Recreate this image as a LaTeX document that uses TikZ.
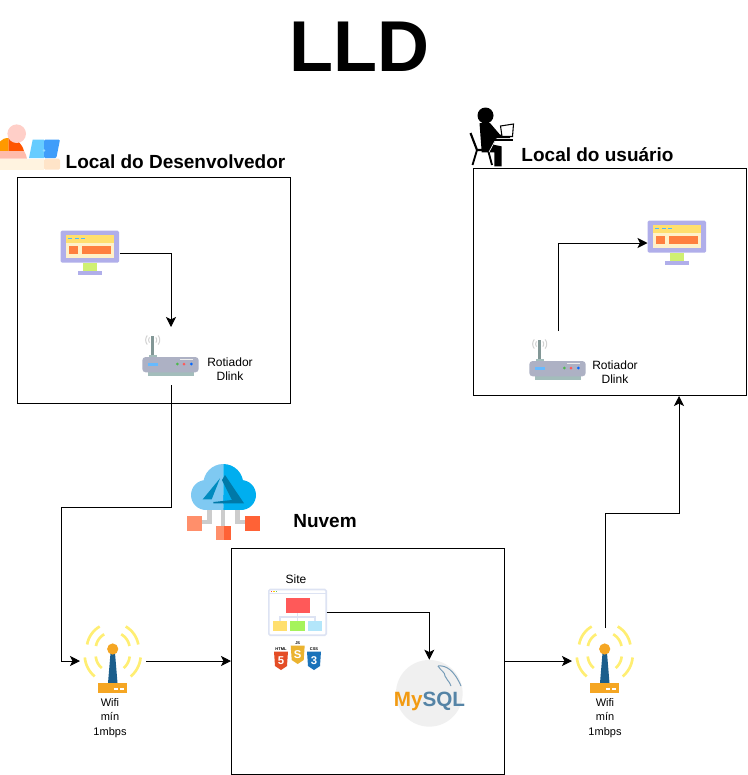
\documentclass[tikz,border=0pt]{standalone}
\usepackage{fontspec}
\setmainfont{Liberation Sans}
\usetikzlibrary{arrows.meta}

\definecolor{screenframe}{HTML}{B0AEEA}
\definecolor{screenhead}{HTML}{FFDF6E}
\definecolor{screenbody}{HTML}{FFF1C9}
\definecolor{screenbox}{HTML}{FF7F3F}
\definecolor{screenstand}{HTML}{CFF072}
\definecolor{routerbody}{HTML}{ADB1C4}
\definecolor{routerfoot}{HTML}{A3BDBB}
\definecolor{mastblue}{HTML}{1B5E8C}
\definecolor{wifiorange}{HTML}{F5A623}
\definecolor{wifiyellow}{HTML}{FFEE73}
\definecolor{cloudlight}{HTML}{7FC9F2}
\definecolor{clouddark}{HTML}{00AEEF}
\definecolor{logodark}{HTML}{0079A8}
\definecolor{squarelight}{HTML}{FF8F6B}
\definecolor{squaredark}{HTML}{FF6236}
\definecolor{sqlorange}{HTML}{F29A11}
\definecolor{sqlblue}{HTML}{5584A6}
\definecolor{sitefr}{HTML}{DDE3F3}
\definecolor{tablelight}{HTML}{FFF3E0}
\definecolor{tabledark}{HTML}{FFE4C8}
\definecolor{skinpink}{HTML}{FFCFC8}
\definecolor{collarpink}{HTML}{FFBBAB}
\definecolor{shirtorange}{HTML}{FF9900}
\definecolor{shirtred}{HTML}{FF5500}
\definecolor{laptoplight}{HTML}{66CCFF}
\definecolor{laptopdark}{HTML}{3F9DFA}
\definecolor{htmlbadge}{HTML}{E44D26}
\definecolor{jsbadge}{HTML}{EBB32F}
\definecolor{cssbadge}{HTML}{1B73BA}

\tikzset{
  sitebox/.style={draw,line width=0.75pt,fill=white},
  link/.style={draw,line width=0.75pt,-{Stealth[length=7.5pt,width=7.5pt,inset=1.8pt]}},
  icon/.style={inner sep=0pt,outer sep=0pt,minimum width=#1},
  title/.style={font=\fontsize{54}{60}\selectfont\bfseries,inner sep=0pt,anchor=base},
  heading/.style={font=\fontsize{14.25}{16}\selectfont\bfseries,inner sep=0pt,anchor=base},
  small/.style={font=\fontsize{9}{10.6}\selectfont,inner sep=0pt,align=center},
  tiny/.style={font=\fontsize{8.25}{11}\selectfont,inner sep=0pt,align=center},
  pics/monitor/.style={code={
    \begin{scope}[shift={(-90,-253)}]
      \fill[screenframe,rounded corners=1pt] (60.7,230.7) rectangle (119,262.7);
      \fill[screenstand] (83.3,262.7) rectangle (96.7,271);
      \fill[screenframe] (78,271) rectangle (102,275.3);
      \fill[screenbody] (65.7,242.7) rectangle (114.3,258);
      \fill[screenhead] (65.7,235.3) rectangle (114.3,242.7);
      \fill[screenbox] (69.3,246) rectangle (77.7,254.3);
      \fill[screenbox] (82,246) rectangle (110.7,254.3);
      \foreach \dotx in {68.3,74.7,81.3}
        \fill[blue!40!cyan!70] (\dotx,238.2) rectangle +(4,1);
    \end{scope}
  }},
  pics/router/.style={code={
    \begin{scope}[shift={(-171,-356)}]
      \foreach \wave in {4,7}{
        \draw[gray!35,line width=0.75pt] plot[domain=140:220,samples=9] ({152.7+\wave*cos(\x)},{340+\wave*sin(\x)});
        \draw[gray!35,line width=0.75pt] plot[domain=-40:40,samples=9] ({152.7+\wave*cos(\x)},{340+\wave*sin(\x)});
      }
      \fill[routerfoot!80!black] (151.3,335.7) rectangle (154.2,355);
      \fill[routerfoot] (149,354.5) rectangle (157,358);
      \fill[routerfoot] (147.7,372) rectangle (194,375.7);
      \fill[routerbody,rounded corners=2.5pt] (142.3,357) rectangle (198.7,372.3);
      \fill[blue!45!cyan!60] (148,362.5) rectangle (158,365.5);
      \fill[white!85!gray] (180,358.5) rectangle (193,360);
      \fill[green!60!black!70] (177.3,364) circle (1.5);
      \fill[red!65] (184,364) circle (1.5);
      \fill[blue!60!cyan] (191.3,364) circle (1.5);
    \end{scope}
  }},
  pics/wifi/.style={code={
    \begin{scope}[shift={(-113,-661)}]
      \foreach \rad/\radlow in {17/17,26/28}{
        \draw[wifiyellow,line width=2pt] plot[domain=190:240,samples=9] ({112.7+\rad*cos(\x)},{649+\rad*sin(\x)});
        \draw[wifiyellow,line width=2pt] plot[domain=-60:-10,samples=9] ({112.7+\rad*cos(\x)},{649+\rad*sin(\x)});
        \draw[wifiyellow,line width=2pt] plot[domain=130:175,samples=9] ({112.7+\radlow*cos(\x)},{655+\radlow*sin(\x)});
        \draw[wifiyellow,line width=2pt] plot[domain=5:50,samples=9] ({112.7+\radlow*cos(\x)},{655+\radlow*sin(\x)});
      }
      \fill[mastblue] (110.5,653) -- (115,653) -- (117.5,683) -- (108,683) -- cycle;
      \fill[wifiorange] (112.7,649) circle (5.6);
      \fill[wifiorange] (98.3,682.7) rectangle (127,693.3);
      \fill[white] (113.5,688) rectangle +(4,1.6);
      \fill[white] (119.5,688) rectangle +(4,1.6);
    \end{scope}
  }}
}

\begin{document}
\begin{tikzpicture}[x=0.75pt,y=-0.75pt]
  \useasboundingbox (0,0) rectangle (747,775);

  \node[title] (lld) at (359.5,71.7) {LLD};

  % boxes
  \node[sitebox,minimum width=204.75pt,minimum height=169.5pt,inner sep=0pt] (boxdev) at (154,290.5) {};
  \node[sitebox,minimum width=204.75pt,minimum height=170.25pt,inner sep=0pt] (boxuser) at (610,282) {};
  \node[sitebox,minimum width=204.75pt,minimum height=169.5pt,inner sep=0pt] (boxcloud) at (368,661.5) {};

  \node[heading] (labeldev) at (175.5,168) {Local do Desenvolvedor};
  \node[heading] (labeluser) at (597.5,161) {Local do usuário};
  \node[heading] (labelcloud) at (325,527) {Nuvem};

  % developer figure
  \node[icon=45pt,minimum height=34.5pt] (persondev) at (30,147) {};
  \fill[shirtorange] (0,151) -- (0,141.5) .. controls (2,139) and (5,138) .. (8.7,138) -- (8.7,151) -- cycle;
  \fill[shirtred] (8.7,151) -- (8.7,138) .. controls (15,138) and (22,143) .. (24,151) -- cycle;
  \fill[skinpink] (16.7,133.7) circle (9.3);
  \fill[collarpink] (0,151) -- (24,151) .. controls (25.5,153) and (26.5,156) .. (27,158.7) -- (0,158.7) -- cycle;
  \fill[tablelight] (0,158.7) rectangle (44,169.7);
  \fill[tabledark,rounded corners=1pt] (44,158.7) rectangle (60,169.7);
  \fill[laptoplight] (32.7,139.7) -- (44,139.7) -- (44,158) -- (29,158) -- cycle;
  \fill[laptopdark,rounded corners=0.8pt] (44,139.7) -- (60,139.7) -- (56.3,158) -- (44,158) -- cycle;
  \fill[white!30!laptoplight] (44,150.5) circle (1.3);

  % user figure
  \node[icon=36pt,minimum height=45pt] (personuser) at (492,137) {};
  \fill (485.5,115.5) circle (8);
  \fill (479.5,123) -- (490,123) -- (500,134.7) -- (510,134.7) -- (510,138) -- (496.7,138) -- (493.3,144.7) -- (501.5,146.3) -- (501.5,166.3) -- (494.3,166.3) -- (494.3,152.3) -- (481.7,152.3) -- cycle;
  \draw[line width=1.6pt] (470.5,133) -- (477,150) -- (493,150);
  \draw[line width=1.4pt] (477,150) -- (472.5,165);
  \draw[line width=1.4pt] (488,150) -- (492,165);
  \draw[white,line width=0.5pt] (496,139) -- (489,152);
  \draw[line width=0.8pt,fill=white] (500.5,126) -- (513.5,124) -- (512.5,136.5) -- (502,136.5) -- cycle;
  \draw[line width=1pt] (490,140) -- (513,140);

  % cloud
  \node[icon=54.75pt,minimum height=57pt] (cloud) at (223.5,502) {};
  \draw[gray!40,line width=3.2pt] (209.5,508) -- (209.5,521.7) -- (201,521.7);
  \draw[gray!40,line width=3.2pt] (223.3,508) -- (223.3,526);
  \draw[gray!40,line width=3.2pt] (237.5,508) -- (237.5,521.7) -- (246,521.7);
  \begin{scope}
    \clip (187,460) rectangle (223.3,512);
    \fill[cloudlight] (206,495) circle (15) (223.3,484) circle (20) (241,495) circle (15);
    \fill[cloudlight] (206,495) rectangle (241,510);
  \end{scope}
  \begin{scope}
    \clip (223.3,460) rectangle (260,512);
    \fill[clouddark] (206,495) circle (15) (223.3,484) circle (20) (241,495) circle (15);
    \fill[clouddark] (206,495) rectangle (241,510);
  \end{scope}
  \fill[clouddark!80!black] (202.7,499.3) -- (220,478.3) -- (211.7,499.3) -- cycle;
  \fill[logodark] (225,475) -- (244,503.3) -- (213.3,503.3) -- (213.3,502) -- (232,500) -- (222,480) -- cycle;
  \fill[squarelight] (187.3,516) rectangle (201.7,530.7);
  \fill[squaredark] (245.3,516) rectangle (260,530.7);
  \fill[squarelight] (216.3,525.7) rectangle (224,540);
  \fill[squaredark] (224,525.7) rectangle (231,540);

  % icons
  \node[icon=44.25pt,minimum height=33.75pt] (monitordev) at (90,253) {};
  \pic at (90,253) {monitor};
  \node[icon=42.75pt,minimum height=43.5pt] (routerdev) at (171,356) {};
  \pic at (171,356) {router};
  \node[small] (textroutdev) at (230,369) {Rotiador\\Dlink};

  \node[icon=44.25pt,minimum height=33.75pt] (monitoruser) at (677,243) {};
  \pic at (677,243) {monitor};
  \node[icon=42.75pt,minimum height=43.5pt] (routeruser) at (558,360) {};
  \pic at (558,360) {router};
  \node[small] (textroutuser) at (615,372.5) {Rotiador\\Dlink};

  \node[icon=49.5pt,minimum height=49.5pt] (wifidev) at (113,661) {};
  \pic at (113,661) {wifi};
  \node[tiny] (textwifidev) at (110,718) {Wifi\\mín\\1mbps};
  \node[icon=49.5pt,minimum height=49.5pt] (wifiuser) at (605,661) {};
  \pic at (605,661) {wifi};
  \node[tiny] (textwifiuser) at (605,718) {Wifi\\mín\\1mbps};

  % site
  \node[small] (textsite) at (296,579) {Site};
  \node[icon=43.5pt,minimum height=35.25pt] (site) at (297.5,612.5) {};
  \draw[sitefr,line width=1.2pt,fill=white,rounded corners=1pt] (268.8,589.5) rectangle (326.2,635.2);
  \draw[sitefr,line width=0.8pt] (269,593.5) -- (326,593.5);
  \fill[red!70] (270.5,590.6) rectangle +(1.6,1.6);
  \fill[yellow!70!orange] (273,590.6) rectangle +(1.6,1.6);
  \fill[green!60!black!60] (275.5,590.6) rectangle +(1.6,1.6);
  \draw[sitefr,line width=1pt] (297.7,612) -- (297.7,621) (280,621) -- (280,617) -- (315,617) -- (315,621);
  \fill[red!65] (285.7,598.3) rectangle (309.7,612.7);
  \fill[screenhead] (273,621) rectangle (287.3,631);
  \fill[screenstand!80!green] (290.3,621) rectangle (305,631);
  \fill[cyan!30] (307.7,621) rectangle (322,631);

  % html, js and css badges
  \foreach \badgex/\badgey/\badgecol/\badgetxt/\badgenum in {274/648/htmlbadge/HTML/5,290.7/642/jsbadge/JS/S,307/648/cssbadge/CSS/3}{
    \fill[\badgecol] (\badgex,\badgey+3.5) -- ++(14,0) -- ++(-1,14.5) -- ++(-6,4) -- ++(-6,-4) -- cycle;
    \node[inner sep=0pt,font=\fontsize{3}{3}\selectfont\bfseries] at (\badgex+7,\badgey+1.3) {\badgetxt};
    \node[inner sep=0pt,text=white,font=\fontsize{8.5}{8.5}\selectfont\bfseries] at (\badgex+7,\badgey+12.5) {\badgenum};
  }

  % mysql
  \node[circle,fill=black!6,minimum size=50pt,inner sep=0pt] (mysql) at (429.3,693.3) {};
  \node[inner sep=0pt,font=\fontsize{15.5}{17}\selectfont\bfseries] (textmysql) at (429.5,701) {\textcolor{sqlorange}{My}\textcolor{sqlblue}{SQL}};
  \draw[sqlblue!80,line width=0.75pt] (438,666) .. controls (446,665) and (454,670) .. (461,686);
  \draw[sqlblue!80,line width=0.75pt] (438,666) .. controls (441,671) and (445,672) .. (445,676) .. controls (446,680) and (449,680) .. (451,686);

  % connectors
  \coordinate (bendwifi) at (61,507);
  \coordinate (benduser) at (679,513);
  \draw[link] (monitordev.east) -| (routerdev.north);
  \draw[link] (routerdev.south) |- (bendwifi) |- (wifidev.west);
  \draw[link] (wifidev.east) -- (boxcloud.west |- wifidev.east);
  \draw[link] (boxcloud.east |- wifiuser.west) -- (wifiuser.west);
  \draw[link] (wifiuser.north) |- (benduser) -- (boxuser.south -| benduser);
  \draw[link] (routeruser.north) |- (monitoruser.west);
  \draw[link] (site.east) -| (mysql.north);
\end{tikzpicture}
\end{document}
